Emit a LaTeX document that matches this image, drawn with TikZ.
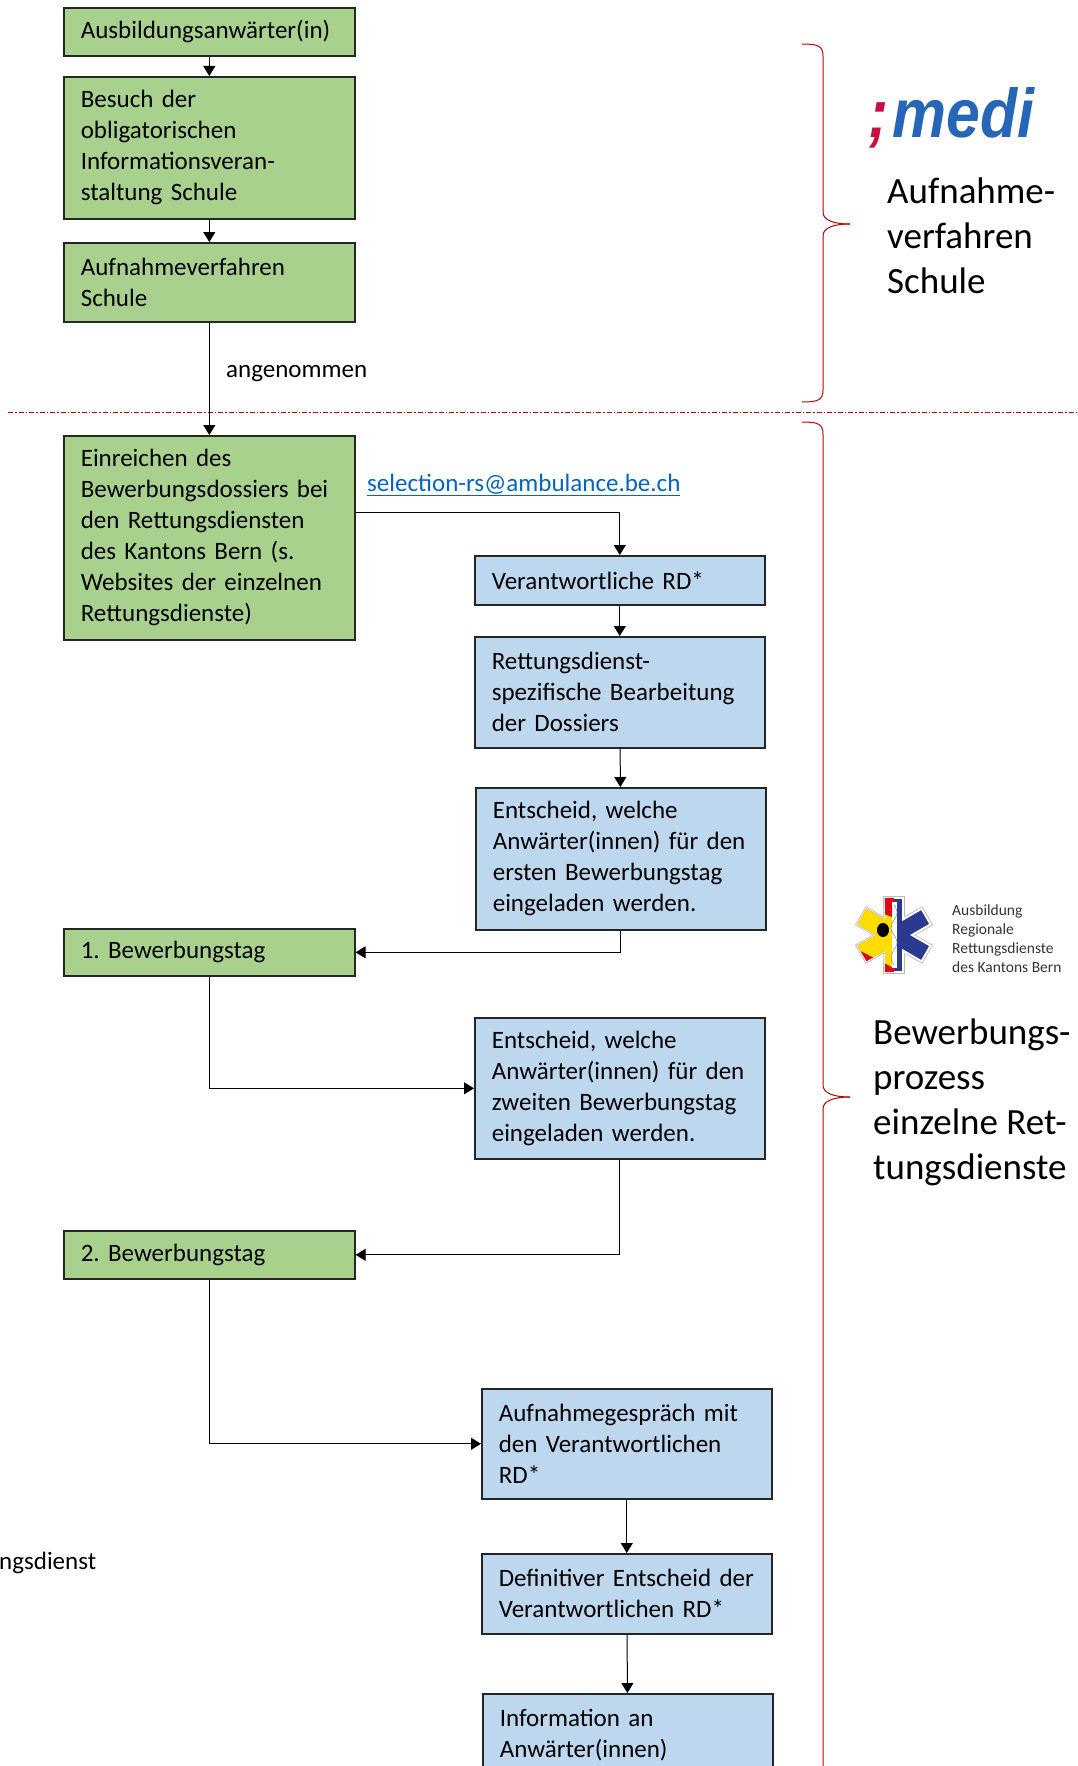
\documentclass[tikz,border=0pt]{standalone}
\usepackage{fontspec}
\setmainfont{Carlito}
\newfontfamily\medifont[FakeStretch=0.88]{Liberation Sans}
\usetikzlibrary{arrows.meta}
\frenchspacing
\definecolor{boxgreen}{HTML}{A9D18E}
\definecolor{boxblue}{HTML}{BDD7EE}
\definecolor{linkblue}{HTML}{0563C1}
\definecolor{bracered}{HTML}{C00000}
\definecolor{medired}{HTML}{C8103E}
\definecolor{mediblue}{HTML}{2666B8}
\definecolor{starblue}{HTML}{2B3990}
\definecolor{bernred}{HTML}{E30613}
\definecolor{bernyellow}{HTML}{FFDD00}
\tikzset{
  stepbox/.style={rectangle, draw=black!85, line width=1.6pt, anchor=north west,
    inner xsep=17pt, inner ysep=0pt, align=left, text=black,
    font=\fontsize{25}{31}\selectfont},
  greenbox/.style={stepbox, fill=boxgreen},
  bluebox/.style={stepbox, fill=boxblue},
  arr/.style={-{Triangle[length=10pt,width=12pt]}, line width=1pt},
  brace/.style={draw=bracered, line width=1pt},
  sepline/.style={draw=bracered, line width=0.8pt, dash pattern=on 5pt off 2pt on 1.5pt off 2pt},
  bigtext/.style={anchor=base west, inner sep=0pt, align=left, font=\fontsize{37}{45}\selectfont},
}
\begin{document}
\begin{tikzpicture}[x=1pt,y=-1pt]
    \useasboundingbox (0,0) rectangle (1077,1766);
    % Schule
    \begin{scope}[every node/.style={greenbox, minimum width=291pt, text width=257pt}]
    \node (Anw) at (63,7) [minimum height=48pt]{Ausbildungsanwärter(in)};
    \node (Bes) at (63,76) [minimum height=142pt]{Besuch der\\obligatorischen\\Informationsveran-\\staltung Schule};
    \node (Auf) at (63,242) [minimum height=79pt]{Aufnahmeverfahren\\Schule};
    \node (Ein) at (63,435) [minimum height=204pt]{Einreichen des\\Bewerbungsdossiers bei\\den Rettungsdiensten\\des Kantons Bern (s.\\Websites der einzelnen\\Rettungsdienste)};
    \node (Bt1) at (63,928) [minimum height=47pt]{1. Bewerbungstag};
    \node (Bt2) at (63,1230) [minimum height=48pt]{2. Bewerbungstag};
    \end{scope}
    % Rettungsdienste
    \begin{scope}[every node/.style={bluebox, minimum width=290pt, text width=256pt}]
    \node (Ver) at (474,555) [minimum height=49pt]{Verantwortliche RD*};
    \node (Spe) at (474,636) [minimum height=111pt]{Rettungsdienst-\\spezifische Bearbeitung\\der Dossiers};
    \node (En1) at (475,787) [minimum height=142pt]{Entscheid, welche\\Anwärter(innen) für den\\ersten Bewerbungstag\\eingeladen werden.};
    \node (En2) at (474,1017) [minimum height=141pt]{Entscheid, welche\\Anwärter(innen) für den\\zweiten Bewerbungstag\\eingeladen werden.};
    \node (Ges) at (481,1388) [minimum height=110pt]{Aufnahmegespräch mit\\den Verantwortlichen\\RD*};
    \node (Def) at (481,1553) [minimum height=80pt]{Definitiver Entscheid der\\Verantwortlichen RD*};
    \node (Inf) at (482,1693) [minimum height=110pt]{Information an\\Anwärter(innen)\\\mbox{}};
    \end{scope}
    \node (ang) at (226,377) [anchor=base west, inner sep=0pt, font=\fontsize{25}{31}\selectfont]{angenommen};
    \node (mail) at (367,491) [anchor=base west, inner sep=0pt, text=linkblue, font=\fontsize{25}{31}\selectfont]{\underline{selection-rs@ambulance.be.ch}};
    \node (ngs) at (-1,1569) [anchor=base west, inner sep=0pt, font=\fontsize{25}{31}\selectfont]{ngsdienst};
    % Trennlinie
    \coordinate (sepL) at (8,412);
    \coordinate (sepR) at (1077,412);
    \draw[sepline] (sepL) -- (sepR);
    % Pfeile
    \path[arr] (Anw) edge (Bes);
    \path[arr] (Bes) edge (Auf);
    \path[arr] (Auf) edge (Ein);
    \draw[arr] ([yshift=-77pt]Ein.north east) -| (Ver.north);
    \path[arr] (Ver) edge (Spe);
    \path[arr] (Spe) edge (En1);
    \draw[arr] (En1.south) |- (Bt1.east);
    \draw[arr] (Bt1.south) |- (En2.west);
    \draw[arr] (En2.south) |- (Bt2.east);
    \draw[arr] (Bt2.south) |- (Ges.west);
    \path[arr] (Ges) edge (Def);
    \path[arr] (Def) edge (Inf);
    % Klammern
    \draw[brace] (802,44) .. controls (818,44) and (823,46) .. (823,56) -- (823,212) .. controls (823,220) and (833,224) .. (850,224);
    \draw[brace] (850,224) .. controls (833,224) and (823,228) .. (823,236) -- (823,390) .. controls (823,400) and (818,402) .. (802,402);
    \draw[brace] (802,422) .. controls (818,422) and (823,424) .. (823,434) -- (823,1085) .. controls (823,1093) and (833,1097) .. (850,1097);
    \draw[brace] (850,1097) .. controls (833,1097) and (823,1101) .. (823,1109) -- (823,1780);
    % medi
    \node (medi) at (868,138) [anchor=base west, inner sep=0pt, font=\medifont\bfseries\itshape\fontsize{69}{69}\selectfont]{\textcolor{medired}{;}\kern4pt\textcolor{mediblue}{medi}};
    \node (ttlA) at (887,293) [bigtext]{Aufnahme-\\verfahren\\Schule};
    % Stern
    \begin{scope}[shift={(894,935)}]
    \path[save path=\starp] (103.7:38.1) -- (76.3:38.1) -- (60:18) -- (43.7:38.1) -- (16.3:38.1) -- (0:18)
      -- (-16.3:38.1) -- (-43.7:38.1) -- (-60:18) -- (-76.3:38.1) -- (-103.7:38.1) -- (-120:18)
      -- (-136.3:38.1) -- (-163.7:38.1) -- (180:18) -- (163.7:38.1) -- (136.3:38.1) -- (120:18) -- cycle;
    \draw[line width=3.5pt, draw=black!30, use path=\starp];
    \draw[line width=2pt, draw=white, fill=starblue, use path=\starp];
    \begin{scope}
    \clip[use path=\starp];
    \fill[bernred] (-45,-45) rectangle (0,45);
    \fill[bernyellow] (-50,-37.5) -- (0,-17) -- (0,33) -- (-50,7.5) -- cycle;
    \fill[black] (-11,-5) ellipse (6pt and 7pt);
    \end{scope}
    \fill[white] (-2.5,-33) rectangle (2.5,33);
    \draw[black!40, line width=0.6pt] plot[smooth, domain=-30:30, samples=25] ({3*sin(\x*12)}, \x);
    \end{scope}
    \node (bern) at (952,972) [anchor=base west, inner sep=0pt, align=left, text=black!80, font=\fontsize{15.5}{19}\selectfont]{Ausbildung\\Regionale\\Rettungsdienste\\des Kantons Bern};
    \node (ttlB) at (873,1179) [bigtext]{Bewerbungs-\\prozess\\einzelne Ret-\\tungsdienste};
\end{tikzpicture}
\end{document}
